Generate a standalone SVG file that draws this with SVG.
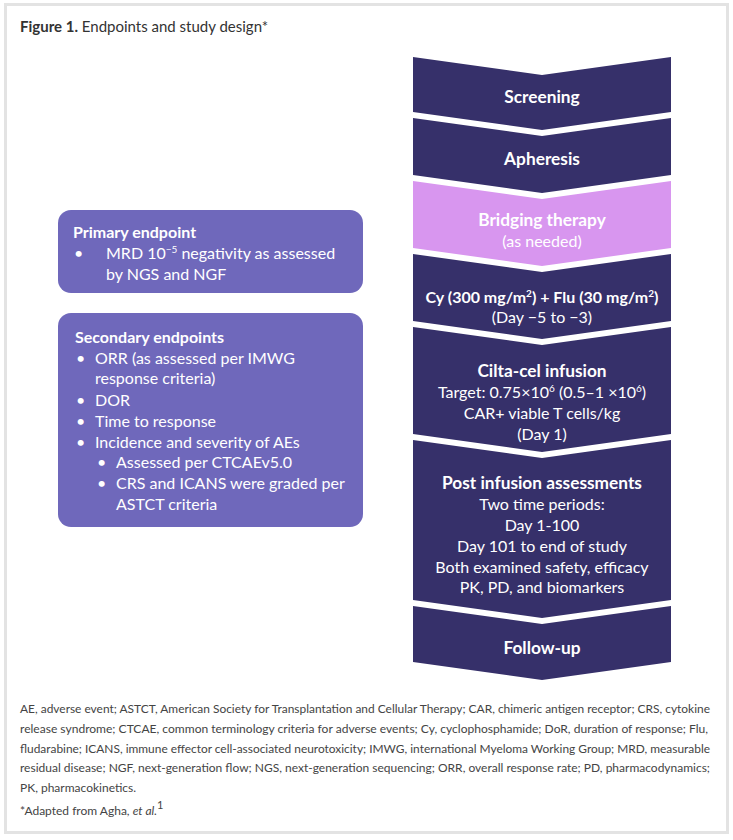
<svg xmlns="http://www.w3.org/2000/svg" width="733" height="840" viewBox="0 0 733 840">
<style>
  text { font-family: "Lato", "Liberation Sans", sans-serif; }
  .ttl { font-size: 15px; fill: #333333; }
  .chev { fill: #36306a; }
  .chevp { fill: #d896ef; }
  .ct { fill: #ffffff; font-size: 16px; text-anchor: middle; }
  .b { font-weight: 700; }
  .h { font-size: 17.3px; }
  .box { fill: #6f68bb; }
  .bt { fill: #ffffff; font-size: 16px; }
  .ft { fill: #444444; font-size: 12px; }
  .sup { font-size: 10px; }
</style>
<rect x="5.5" y="4.5" width="722" height="828" fill="#ffffff" stroke="#e3e3e3" stroke-width="3"/>
<text class="ttl" x="20" y="32"><tspan class="b">Figure 1.</tspan> Endpoints and study design*</text>

<g id="screening">
  <path class="chev" d="M413,57 L542,75 L671,57 L671,112 L542,130 L413,112 Z"/>
  <text class="ct b h" x="542" y="103">Screening</text>
</g>
<g id="apheresis">
  <path class="chev" d="M413,118 L542,136 L671,118 L671,175 L542,193 L413,175 Z"/>
  <text class="ct b h" x="542" y="165">Apheresis</text>
</g>
<g id="bridging">
  <path class="chevp" d="M413,181 L542,199 L671,181 L671,248 L542,266 L413,248 Z"/>
  <text class="ct b h" x="542" y="226">Bridging therapy</text>
  <text class="ct" x="542" y="247">(as needed)</text>
</g>
<g id="cyflu">
  <path class="chev" d="M413,254 L542,272 L671,254 L671,321 L542,339 L413,321 Z"/>
  <text class="ct b" x="542" y="303">Cy (300 mg/m<tspan class="sup" baseline-shift="super">2</tspan>) + Flu (30 mg/m<tspan class="sup" baseline-shift="super">2</tspan>)</text>
  <text class="ct" x="542" y="323">(Day −5 to −3)</text>
</g>
<g id="ciltacel">
  <path class="chev" d="M413,327 L542,345 L671,327 L671,434 L542,452 L413,434 Z"/>
  <text class="ct b h" x="542" y="377">Cilta-cel infusion</text>
  <text class="ct" x="542" y="398">Target: 0.75×10<tspan class="sup" baseline-shift="super">6</tspan> (0.5–1 ×10<tspan class="sup" baseline-shift="super">6</tspan>)</text>
  <text class="ct" x="542" y="419">CAR+ viable T cells/kg</text>
  <text class="ct" x="542" y="440">(Day 1)</text>
</g>
<g id="postinfusion">
  <path class="chev" d="M413,440 L542,458 L671,440 L671,600 L542,618 L413,600 Z"/>
  <text class="ct b h" x="542" y="489">Post infusion assessments</text>
  <text class="ct" x="542" y="510">Two time periods:</text>
  <text class="ct" x="542" y="531">Day 1-100</text>
  <text class="ct" x="542" y="552">Day 101 to end of study</text>
  <text class="ct" x="542" y="573">Both examined safety, efficacy</text>
  <text class="ct" x="542" y="593">PK, PD, and biomarkers</text>
</g>
<g id="followup">
  <path class="chev" d="M413,606 L542,624 L671,606 L671,662 L542,680 L413,662 Z"/>
  <text class="ct b h" x="542" y="654">Follow-up</text>
</g>

<g id="primary">
  <rect class="box" x="58" y="210" width="305" height="83" rx="13"/>
  <text class="bt b h" x="73" y="238">Primary endpoint</text>
  <text class="bt" x="74" y="259">•</text>
  <text class="bt" x="106" y="259">MRD 10<tspan class="sup" baseline-shift="super">−5</tspan> negativity as assessed</text>
  <text class="bt" x="106" y="280">by NGS and NGF</text>
</g>
<g id="secondary">
  <rect class="box" x="58" y="313" width="305" height="214" rx="13"/>
  <text class="bt b h" x="75" y="343">Secondary endpoints</text>
  <text class="bt" x="76" y="364">•</text>
  <text class="bt" x="95" y="364">ORR (as assessed per IMWG</text>
  <text class="bt" x="95" y="384">response criteria)</text>
  <text class="bt" x="76" y="406">•</text>
  <text class="bt" x="95" y="406">DOR</text>
  <text class="bt" x="76" y="427">•</text>
  <text class="bt" x="95" y="427">Time to response</text>
  <text class="bt" x="76" y="448">•</text>
  <text class="bt" x="95" y="448">Incidence and severity of AEs</text>
  <text class="bt" x="97" y="468">•</text>
  <text class="bt" x="116" y="468">Assessed per CTCAEv5.0</text>
  <text class="bt" x="97" y="489">•</text>
  <text class="bt" x="116" y="489">CRS and ICANS were graded per</text>
  <text class="bt" x="116" y="510">ASTCT criteria</text>
</g>

<g id="footer">
  <text class="ft" x="20" y="713" textLength="690" lengthAdjust="spacingAndGlyphs">AE, adverse event; ASTCT, American Society for Transplantation and Cellular Therapy; CAR, chimeric antigen receptor; CRS, cytokine</text>
  <text class="ft" x="20" y="733" textLength="688" lengthAdjust="spacingAndGlyphs">release syndrome; CTCAE, common terminology criteria for adverse events; Cy, cyclophosphamide; DoR, duration of response; Flu,</text>
  <text class="ft" x="20" y="753" textLength="690" lengthAdjust="spacingAndGlyphs">fludarabine; ICANS, immune effector cell-associated neurotoxicity; IMWG, international Myeloma Working Group; MRD, measurable</text>
  <text class="ft" x="20" y="772" textLength="690" lengthAdjust="spacingAndGlyphs">residual disease; NGF, next-generation flow; NGS, next-generation sequencing; ORR, overall response rate; PD, pharmacodynamics;</text>
  <text class="ft" x="20" y="792">PK, pharmacokinetics.</text>
  <text class="ft" x="20" y="815">*Adapted from Agha, <tspan font-style="italic">et al.</tspan><tspan font-size="11" baseline-shift="super">1</tspan></text>
</g>
</svg>
